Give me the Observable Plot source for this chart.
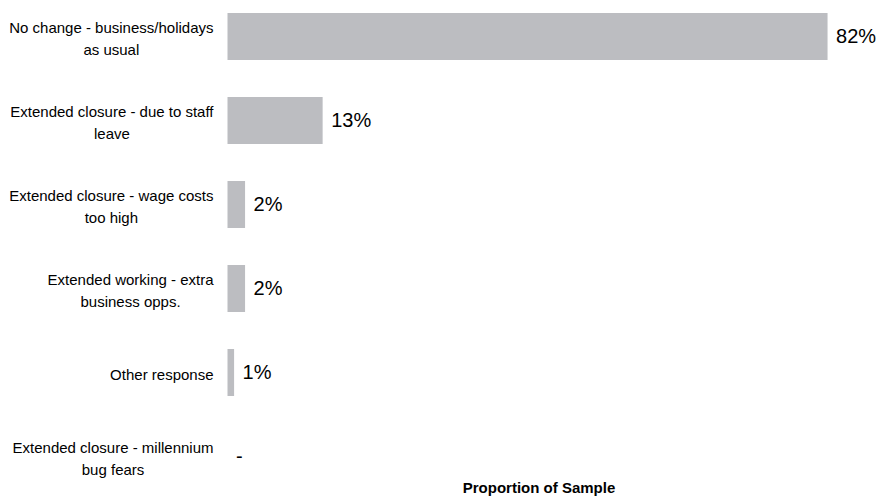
<!DOCTYPE html>
<html><head><meta charset="utf-8">
<script src="https://cdn.jsdelivr.net/npm/d3@7"></script>
<script src="https://cdn.jsdelivr.net/npm/@observablehq/plot@0.6"></script>
<style>body{margin:0;background:#fff;}</style>
</head><body><div id="chart"></div>
<script>
const categories = [
  "No change - business/holidays\nas usual",
  "Extended closure - due to staff\nleave",
  "Extended closure - wage costs\ntoo high",
  "Extended working - extra\nbusiness opps.",
  "Other response",
  "Extended closure - millennium\nbug fears"
];
const values = [82, 13, 2.4, 2.4, 0.9, 0];
const valueLabels = ["82%", "13%", "2%", "2%", "1%", "-"];
const xLabel = "Proportion of Sample";

const data = categories.map((c, i) => ({category: c, value: values[i], label: valueLabels[i]}));

const labelFont = "15px 'Liberation Sans'";
const ctx = document.createElement("canvas").getContext("2d");
ctx.font = labelFont;
const widthOf = s => Math.max(...s.split("\n").map(l => ctx.measureText(l).width));

const labelMarks = data.map(d => Plot.text([d], {
  y: "category", text: "category", frameAnchor: "left",
  dx: -(14.5 + widthOf(d.category) / 2), textAnchor: "middle", lineAnchor: "middle",
  lineHeight: 1.47, fontSize: 15, fill: "#000"
}));

const chart = Plot.plot({
  width: 878, height: 498,
  marginLeft: 227.5, marginRight: 28.5, marginTop: 7.8, marginBottom: 14,
  style: {fontFamily: "'Liberation Sans', Arial, sans-serif", background: "#fff", overflow: "visible"},
  x: {domain: [0, 85], axis: null},
  y: {domain: categories, axis: null, paddingInner: 0.444, paddingOuter: 0.05, align: 0.5},
  marks: [
    Plot.barX(data, {x: "value", y: "category", fill: "#bcbdc1"}),
    Plot.text(data, {x: "value", y: "category", text: "label", dx: 8, textAnchor: "start", fontSize: 20, fill: "#000"}),
    ...labelMarks,
    Plot.text([xLabel], {frameAnchor: "bottom", dy: 4, lineAnchor: "middle", fontWeight: "bold", fontSize: 15, fill: "#000"})
  ]
});
document.getElementById("chart").appendChild(chart);
</script>
</body></html>
